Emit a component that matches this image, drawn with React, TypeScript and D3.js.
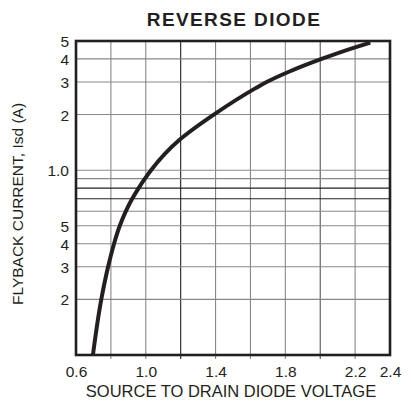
import { useEffect, useRef } from "react";
import * as d3 from "d3";

// Forward voltage (V) vs flyback current (A)
const voltage = [0.697, 0.745, 0.784, 0.818, 0.851, 0.886, 0.922, 0.959, 0.995, 1.03, 1.197, 1.39, 1.63, 1.693, 1.824, 2.008, 2.2, 2.287];
const current = [0.1, 0.2, 0.3, 0.4, 0.5, 0.6, 0.7, 0.8, 0.9, 1.0, 1.47, 2.0, 2.78, 3.0, 3.42, 4.0, 4.62, 4.9];

const xGrid = [0.8, 1.0, 1.2, 1.4, 1.6, 1.8, 2.0, 2.2];
const xLabels = [0.6, 1.0, 1.4, 1.8, 2.2, 2.4];
const yGrid = [0.2, 0.3, 0.4, 0.5, 0.6, 0.7, 0.8, 0.9, 1.0, 2, 3, 4];
const yLabels = [0.2, 0.3, 0.4, 0.5, 1.0, 2, 3, 4, 5];
const yLabelText = ["2", "3", "4", "5", "1.0", "2", "3", "4", "5"];

const W = 411;
const H = 405;

export default function App() {
  const ref = useRef<SVGSVGElement>(null);

  useEffect(() => {
    if (!ref.current) return;
    const svg = d3.select(ref.current);
    svg.selectAll("*").remove();

    const m = { top: 41, right: 21, bottom: 50, left: 76 };
    const x = d3.scaleLinear().domain([0.6, 2.4]).range([m.left, W - m.right]);
    const y = d3.scaleLog().domain([0.1, 5]).range([H - m.bottom, m.top]);
    const font = "'Liberation Sans', Arial, Helvetica, sans-serif";

    // vertical grid
    const darkX = (v: number) => (Math.abs(v - 1.2) < 1e-6 ? "#222" : Math.abs(v - 2.0) < 1e-6 ? "#555" : "#888");
    svg.append("g")
      .selectAll("line")
      .data(xGrid)
      .join("line")
      .attr("x1", d => x(d)).attr("x2", d => x(d))
      .attr("y1", y(5)).attr("y2", y(0.1) + 4)
      .attr("stroke", d => darkX(d))
      .attr("stroke-width", 1.1);

    // horizontal grid
    const darkY = (v: number) => (v === 0.7 || v === 0.8 ? "#222" : "#888");
    svg.append("g")
      .selectAll("line")
      .data(yGrid)
      .join("line")
      .attr("x1", x(0.6)).attr("x2", x(2.4))
      .attr("y1", d => y(d)).attr("y2", d => y(d))
      .attr("stroke", d => darkY(d))
      .attr("stroke-width", 1.1);

    // frame
    svg.append("rect")
      .attr("x", x(0.6)).attr("y", y(5))
      .attr("width", x(2.4) - x(0.6))
      .attr("height", y(0.1) - y(5))
      .attr("fill", "none")
      .attr("stroke", "#231f20")
      .attr("stroke-width", 2.6);

    // x tick labels
    const xAxis = svg.append("g")
      .attr("transform", `translate(0,${y(0.1)})`)
      .call(d3.axisBottom(x).tickValues(xLabels).tickSize(0).tickPadding(0).tickFormat(d3.format(".1f")));
    xAxis.select(".domain").remove();
    xAxis.selectAll("text")
      .attr("dy", null)
      .attr("y", 22)
      .attr("font-family", font)
      .attr("font-size", 15.5)
      .attr("fill", "#231f20");

    // y tick labels
    const yAxis = svg.append("g")
      .attr("transform", `translate(${x(0.6)},0)`)
      .call(d3.axisLeft(y).tickValues(yLabels).tickSize(0).tickPadding(7)
        .tickFormat((_d, i) => yLabelText[i]));
    yAxis.select(".domain").remove();
    yAxis.selectAll("text")
      .attr("dy", "0.36em")
      .attr("font-family", font)
      .attr("font-size", 15.5)
      .attr("fill", "#231f20");

    // curve (ordered top to bottom so it can be smoothed along y)
    const pts: [number, number][] = voltage.map((v, i) => [x(v), y(current[i])] as [number, number]).reverse();
    svg.append("path")
      .attr("d", d3.line().curve(d3.curveMonotoneY)(pts))
      .attr("fill", "none")
      .attr("stroke", "#231f20")
      .attr("stroke-width", 4)
      .attr("stroke-linecap", "butt");

    // titles
    svg.append("text")
      .attr("x", 234).attr("y", 26)
      .attr("text-anchor", "middle")
      .attr("font-family", font)
      .attr("font-weight", "bold")
      .attr("font-size", 19)
      .attr("letter-spacing", 1.4)
      .attr("fill", "#231f20")
      .text("REVERSE DIODE");

    svg.append("text")
      .attr("x", 231).attr("y", 397)
      .attr("text-anchor", "middle")
      .attr("font-family", font)
      .attr("font-size", 16.5)
      .attr("fill", "#231f20")
      .text("SOURCE TO DRAIN DIODE VOLTAGE");

    svg.append("text")
      .attr("transform", `translate(23,204) rotate(-90)`)
      .attr("text-anchor", "middle")
      .attr("font-family", font)
      .attr("font-size", 15.5)
      .attr("fill", "#231f20")
      .text("FLYBACK CURRENT, Isd (A)");
  }, []);

  return (
    <div style={{ position: "absolute", left: 0, top: 0 }}>
      <svg ref={ref} width={W} height={H} style={{ display: "block", background: "#fff" }} />
    </div>
  );
}
